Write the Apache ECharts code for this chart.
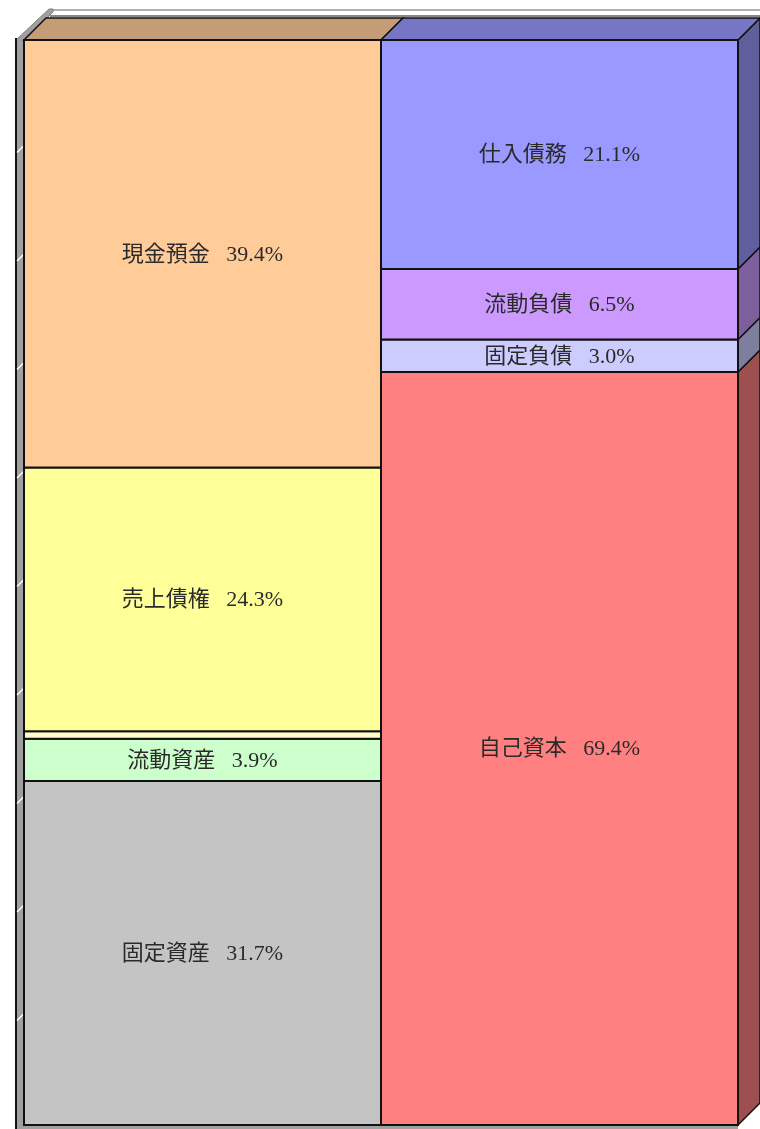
<!DOCTYPE html>
<html>
<head>
<meta charset="utf-8">
<script src="https://cdn.jsdelivr.net/npm/echarts@6/dist/echarts.min.js"></script>
<style>
  html, body { margin: 0; padding: 0; background: #fff; }
  #chart { width: 760px; height: 1129px; }
</style>
</head>
<body>
<div id="chart"></div>
<script>
// 2列の積み上げ（資産 / 負債・純資産）、下から上の順
const categories = ['資産', '負債・純資産']

const assetNames = ['固定資産', '流動資産', 'その他', '売上債権', '現金預金']
const assetValues = [31.7, 3.9, 0.7, 24.3, 39.4]

const liabNames = ['自己資本', '固定負債', '流動負債', '仕入債務']
const liabValues = [69.4, 3.0, 6.5, 21.1]

// 左の壁の目盛り（%）
const wallTicks = [10, 20, 30, 40, 50, 60, 70, 80, 90]

// 色（データとは別）
const assetColors = ['#c4c4c4', '#ccffcc', '#ffffcc', '#ffff99', '#ffcc99']
const liabColors = ['#ff8080', '#ccccff', '#cc99ff', '#9999ff']

const DEPTH = 22
const FONT = "'Liberation Serif', 'Noto Sans CJK JP', serif"

// 色を暗くする
const shade = (hex, k) => {
  const n = parseInt(hex.slice(1), 16)
  const r = Math.round(((n >> 16) & 255) * k)
  const g = Math.round(((n >> 8) & 255) * k)
  const b = Math.round((n & 255) * k)
  return 'rgb(' + r + ',' + g + ',' + b + ')'
}

// 累積して [列, 下端, 上端] を作る
const stackRows = (col, values) => {
  let acc = 0
  return values.map((v) => {
    const row = [col, acc, acc + v]
    acc += v
    return row
  })
}

const makeRender = (names, values, colors, isLastCol) => (params, api) => {
  const i = params.dataIndex
  const c = api.value(0)
  const pLo = api.coord([c, api.value(1)])
  const pHi = api.coord([c, api.value(2)])
  const bw = api.size([1, 0])[0]
  const x0 = pLo[0] - bw / 2
  const x1 = pLo[0] + bw / 2
  const yT = pHi[1]
  const yB = pLo[1]
  const color = colors[i]
  const children = []

  if (isLastCol) {
    children.push({
      type: 'polygon',
      shape: { points: [[x1, yT], [x1 + DEPTH, yT - DEPTH], [x1 + DEPTH, yB - DEPTH], [x1, yB]] },
      style: { fill: shade(color, 0.62), stroke: '#111', lineWidth: 1.5 }
    })
  }
  if (i === values.length - 1) {
    children.push({
      type: 'polygon',
      shape: { points: [[x0, yT], [x1, yT], [x1 + DEPTH, yT - DEPTH], [x0 + DEPTH, yT - DEPTH]] },
      style: { fill: shade(color, 0.77), stroke: '#111', lineWidth: 1.5 }
    })
  }
  children.push({
    type: 'rect',
    shape: { x: x0, y: yT, width: bw, height: yB - yT },
    style: { fill: color, stroke: '#111', lineWidth: 2 }
  })
  if (values[i] >= 1) {
    children.push({
      type: 'text',
      x: (x0 + x1) / 2,
      y: (yT + yB) / 2 + 1,
      style: {
        text: names[i] + '   ' + values[i].toFixed(1) + '%',
        fontSize: 22,
        fontFamily: FONT,
        fill: '#2a2a2a',
        align: 'center',
        verticalAlign: 'middle'
      }
    })
  }
  return { type: 'group', children }
}

const mChart = echarts.init(document.getElementById('chart'))

const options = {
  backgroundColor: '#fff',
  animation: false,
  grid: { left: 24, right: 22, top: 40, bottom: 4 },
  xAxis: { type: 'category', data: categories, show: false },
  yAxis: { type: 'value', min: 0, max: 100, interval: 10, show: false },
  // 3Dの壁・床（装飾）
  graphic: [
    { type: 'line', shape: { x1: 50, y1: 10, x2: 760, y2: 10 }, style: { stroke: '#b0b0b0', lineWidth: 2 } },
    { type: 'line', shape: { x1: 50, y1: 16, x2: 760, y2: 16 }, style: { stroke: '#606060', lineWidth: 1.5 } },
    { type: 'polygon', shape: { points: [[16, 41], [24, 41], [53, 12], [53, 9], [49, 9], [16, 40]] }, style: { fill: '#a0a0a0', stroke: '#808080', lineWidth: 1 } },
    { type: 'rect', shape: { x: 16, y: 40, width: 8, height: 1089 }, style: { fill: '#a0a0a0' } },
    { type: 'rect', shape: { x: 16, y: 1124, width: 722, height: 5 }, style: { fill: '#a0a0a0' } },
    { type: 'line', shape: { x1: 16, y1: 38, x2: 16, y2: 1129 }, style: { stroke: '#111', lineWidth: 2 } }
  ],
  series: [
    {
      type: 'custom',
      coordinateSystem: 'cartesian2d',
      z: 3,
      data: wallTicks.map((v) => [0, v]),
      renderItem: (params, api) => {
        const p = api.coord([0, api.value(1)])
        const x0 = p[0] - api.size([1, 0])[0] / 2
        return {
          type: 'line',
          shape: { x1: x0 - 7, y1: p[1] + 4, x2: x0, y2: p[1] - 3 },
          style: { stroke: '#fff', lineWidth: 1.5 }
        }
      }
    },
    {
      type: 'custom',
      coordinateSystem: 'cartesian2d',
      z: 4,
      data: stackRows(0, assetValues),
      renderItem: makeRender(assetNames, assetValues, assetColors, false)
    },
    {
      type: 'custom',
      coordinateSystem: 'cartesian2d',
      z: 5,
      data: stackRows(1, liabValues),
      renderItem: makeRender(liabNames, liabValues, liabColors, true)
    }
  ]
}

mChart.setOption(options)
</script>
</body>
</html>
